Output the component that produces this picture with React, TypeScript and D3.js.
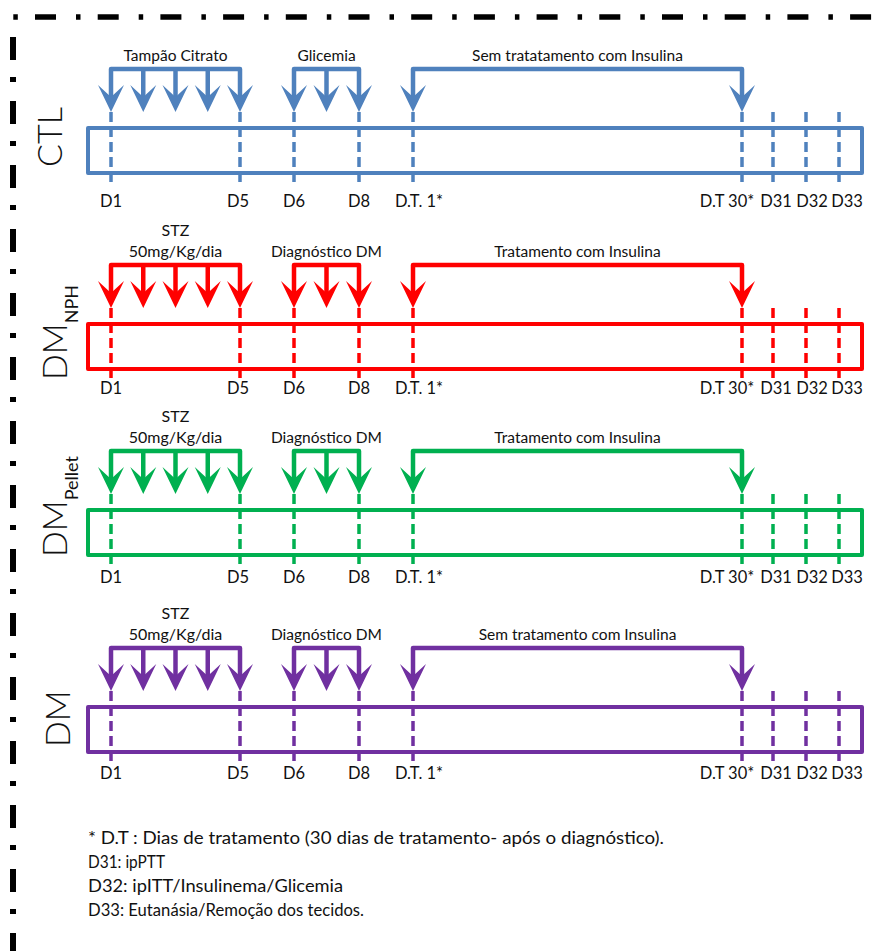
import React from 'react';
import * as d3 from 'd3';

// experimental groups (row label + subscript) and their colours
const groupNames = ['CTL', 'DM', 'DM', 'DM'];
const groupSubs = ['', 'NPH', 'Pellet', ''];
const groupColors = ['#4F81BD', '#FF0000', '#00B050', '#7030A0'];

// timeline days (D1..D8, D.T.1 = day 9, D.T 30 = day 38, D31..D33 = 39..41)
const tickDays = [1, 5, 6, 8, 9, 38, 39, 40, 41];
const tickLabels = ['D1', 'D5', 'D6', 'D8', 'D.T. 1*', 'D.T 30*', 'D31', 'D32', 'D33'];
const phaseDays = [[1, 2, 3, 4, 5], [6, 7, 8], [9, 38]];

const phaseLabels = [
  [['Tampão Citrato'], ['Glicemia'], ['Sem tratatamento com Insulina']],
  [['STZ', '50mg/Kg/dia'], ['Diagnóstico DM'], ['Tratamento com Insulina']],
  [['STZ', '50mg/Kg/dia'], ['Diagnóstico DM'], ['Tratamento com Insulina']],
  [['STZ', '50mg/Kg/dia'], ['Diagnóstico DM'], ['Sem tratamento com Insulina']],
];

const notes = [
  '* D.T : Dias de tratamento (30 dias de tratamento-  após o diagnóstico).',
  'D31: ipPTT',
  'D32: ipITT/Insulinema/Glicemia',
  'D33: Eutanásia/Remoção dos tecidos.',
];

// layout
const W = 888;
const H = 951;
const rowTop = [69, 265, 451, 648];
const tickLabelOffset = [132, 123, 126, 125];
const rowLabelX = [62, 67, 67, 70];
const rowLabelBottom = [167, 380, 557, 747];
const labelDx = [0, -2, 0, 0, 6, -15, 3, 6, 8];
const noteWidths = [576, 77, 255, 276];
const FONT = 'Lato, Carlito, "Open Sans", sans-serif';

const x = d3.scaleLinear()
  .domain([1, 5, 6, 8, 9, 38, 39, 41])
  .range([111, 240, 294, 359, 413, 742, 773, 839]);

const boxLeft = 88;
const boxRight = 862;

const headPath = (cx: number, tip: number) => {
  const p = d3.path();
  p.moveTo(cx - 13, tip - 27);
  p.lineTo(cx, tip);
  p.lineTo(cx + 13, tip - 27);
  p.lineTo(cx, tip - 15);
  p.closePath();
  return p.toString();
};

const Row: React.FC<{ i: number }> = ({ i }) => {
  const color = groupColors[i];
  const top = rowTop[i];
  const tip = top + 43;
  const boxTop = top + 59;
  const boxBottom = top + 104;
  const dashEnd = boxBottom + 12;
  const labelY = top + tickLabelOffset[i] + 5.5;

  return (
    <g>
      {/* box */}
      <rect x={boxLeft} y={boxTop} width={boxRight - boxLeft} height={boxBottom - boxTop}
        fill="none" stroke={color} strokeWidth={4} strokeLinejoin="round" />

      {/* phase brackets with arrows */}
      {phaseDays.map((days, k) => {
        const x0 = x(days[0]);
        const x1 = x(days[days.length - 1]);
        const bracket = d3.path();
        bracket.moveTo(x0, tip - 15);
        bracket.lineTo(x0, top);
        bracket.lineTo(x1, top);
        bracket.lineTo(x1, tip - 15);
        const lines = phaseLabels[i][k];
        const cx = (x0 + x1) / 2;
        return (
          <g key={k}>
            <path d={bracket.toString()} fill="none" stroke={color} strokeWidth={4.5} strokeLinejoin="round" />
            {days.slice(1, -1).map(d => (
              <line key={d} x1={x(d)} x2={x(d)} y1={top} y2={tip - 15} stroke={color} strokeWidth={4.5} />
            ))}
            {days.map(d => (
              <path key={'h' + d} d={headPath(x(d), tip)} fill={color} />
            ))}
            {lines.map((t, j) => (
              <text key={t} x={cx} y={top - 8.5 - (lines.length - 1 - j) * 20.5}
                textAnchor="middle" fontSize={lines.length > 1 ? 16 : 15.5} fill="#111">{t}</text>
            ))}
          </g>
        );
      })}

      {/* dashed day markers */}
      {tickDays.map(d => (
        <line key={'d' + d} x1={x(d)} x2={x(d)} y1={tip} y2={dashEnd}
          stroke={color} strokeWidth={3.5} strokeDasharray="10 5" />
      ))}

      {/* day labels */}
      {tickDays.map((d, k) => (
        <text key={'l' + d} x={x(d) + labelDx[k]} y={labelY} textAnchor="middle"
          fontSize={16.5} fill="#111">{tickLabels[k]}</text>
      ))}

      {/* group label */}
      <text transform={`translate(${rowLabelX[i]},${rowLabelBottom[i]}) rotate(-90)`}
        fontSize={34} fontWeight={300} fill="#111">
        {groupNames[i]}
        {groupSubs[i] && (
          <tspan dy={11} fontSize={18} fontWeight={400}>{groupSubs[i]}</tspan>
        )}
      </text>
    </g>
  );
};

export default function App() {
  return (
    <svg width={W} height={H} style={{ position: 'absolute', left: 0, top: 0, background: '#fff' }}
      fontFamily={FONT}>
      <rect width={W} height={H} fill="#fff" />
      {/* dash-dot frame */}
      <line x1={13.3} x2={873} y1={17} y2={17} stroke="#000" strokeWidth={5.5}
        strokeDasharray="4.5 17.2 21 20" />
      <line x1={13} x2={13} y1={37} y2={H} stroke="#000" strokeWidth={6}
        strokeDasharray="23 17 5 19" />

      {groupNames.map((_, i) => <Row key={i} i={i} />)}

      {notes.map((t, k) => (
        <text key={k} x={88} y={843.5 + k * 24} fontSize={16.5} fill="#111"
          textLength={noteWidths[k]} lengthAdjust="spacingAndGlyphs">{t}</text>
      ))}
    </svg>
  );
}
